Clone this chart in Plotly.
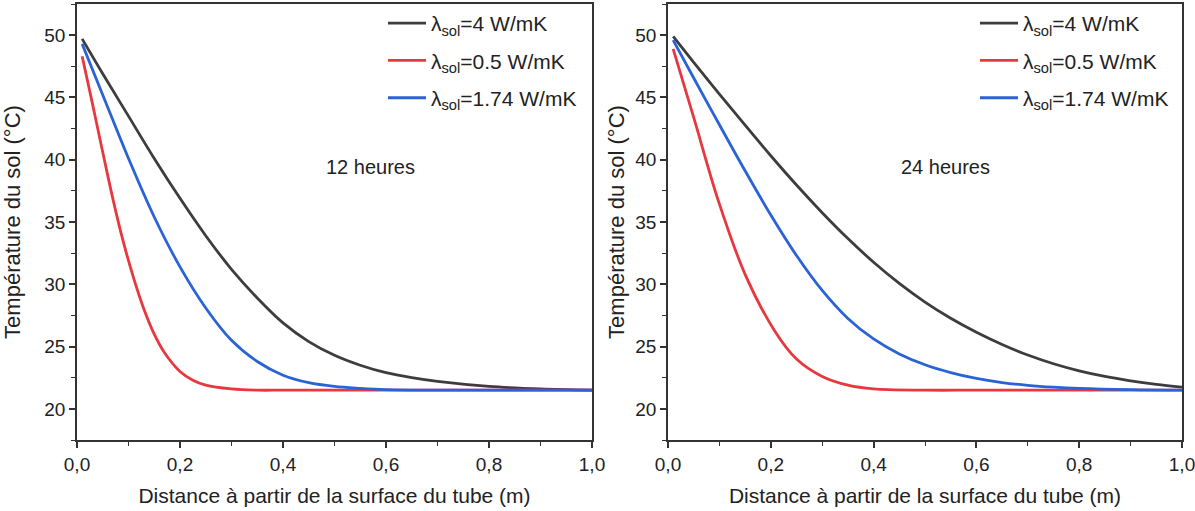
import plotly.graph_objects as go

W, H = 1195, 511

# ---- data ----
x12_black = [0.01, 0.05, 0.1, 0.15, 0.2, 0.25, 0.3, 0.35, 0.4, 0.45, 0.5, 0.55, 0.6, 0.65, 0.7, 0.8, 0.9, 1.0]
t12_black = [49.7, 46.9, 43.5, 40.1, 36.9, 33.9, 31.2, 28.9, 26.9, 25.4, 24.3, 23.5, 22.9, 22.5, 22.2, 21.8, 21.6, 21.5]

x12_red = [0.01, 0.03, 0.05, 0.07, 0.09, 0.11, 0.13, 0.15, 0.17, 0.2, 0.225, 0.25, 0.3, 0.35, 0.4, 0.6, 0.8, 1.0]
t12_red = [48.3, 44.5, 40.6, 36.8, 33.4, 30.5, 28.0, 26.0, 24.5, 23.0, 22.3, 21.9, 21.6, 21.5, 21.5, 21.5, 21.5, 21.5]

x12_blue = [0.01, 0.05, 0.1, 0.15, 0.2, 0.25, 0.3, 0.35, 0.4, 0.45, 0.5, 0.55, 0.6, 0.7, 0.8, 1.0]
t12_blue = [49.3, 45.2, 40.1, 35.4, 31.4, 28.1, 25.5, 23.8, 22.7, 22.1, 21.8, 21.65, 21.55, 21.5, 21.5, 21.5]

x24_black = [0.01, 0.05, 0.1, 0.15, 0.2, 0.25, 0.3, 0.35, 0.4, 0.45, 0.5, 0.55, 0.6, 0.65, 0.7, 0.75, 0.8, 0.85, 0.9, 0.95, 1.0]
t24_black = [49.9, 47.82, 45.27, 42.77, 40.32, 37.97, 35.75, 33.67, 31.77, 30.07, 28.57, 27.27, 26.15, 25.17, 24.32, 23.62, 23.05, 22.6, 22.25, 21.97, 21.75]

x24_red = [0.01, 0.05, 0.098, 0.15, 0.207, 0.25, 0.3, 0.35, 0.4, 0.5, 0.6, 0.8, 1.0]
t24_red = [48.9, 43.4, 36.7, 30.8, 26.3, 24.0, 22.6, 21.9, 21.6, 21.5, 21.5, 21.5, 21.5]

x24_blue = [0.01, 0.05, 0.1, 0.15, 0.2, 0.25, 0.3, 0.35, 0.4, 0.45, 0.5, 0.55, 0.6, 0.65, 0.7, 0.75, 0.8, 0.9, 1.0]
t24_blue = [49.6, 46.56, 42.81, 39.11, 35.56, 32.31, 29.51, 27.26, 25.61, 24.41, 23.54, 22.91, 22.44, 22.11, 21.89, 21.74, 21.64, 21.54, 21.5]

labels = ["λ<sub>sol</sub>=4 W/mK", "λ<sub>sol</sub>=0.5 W/mK", "λ<sub>sol</sub>=1.74 W/mK"]
panel_notes = ["12 heures", "24 heures"]
x_title = "Distance à partir de la surface du tube (m)"
y_title = "Température du sol (°C)"

colors = ["#3d3d3d", "#e8383f", "#2a63d6"]
FONT = "Liberation Sans, Arial, sans-serif"

fig = go.Figure()

panels = [
    [(x12_black, t12_black), (x12_red, t12_red), (x12_blue, t12_blue)],
    [(x24_black, t24_black), (x24_red, t24_red), (x24_blue, t24_blue)],
]
for p, series in enumerate(panels):
    for i, (xs, ys) in enumerate(series):
        fig.add_trace(go.Scatter(
            x=xs, y=ys, mode="lines", name=labels[i],
            line=dict(color=colors[i], width=2.8, shape="spline", smoothing=1.0),
            xaxis="x" if p == 0 else "x2", yaxis="y" if p == 0 else "y2",
            legend="legend" if p == 0 else "legend2",
            legendgroup=f"p{p}g{i}",
        ))

ydom = [(H - 440) / H, (H - 4) / H]
axis_common = dict(
    automargin=False,
    showline=True, linecolor="#333333", linewidth=1.6, mirror=True,
    ticks="outside", ticklen=6, tickwidth=1.5, tickcolor="#333333",
    showgrid=False, zeroline=False,
    tickfont=dict(family=FONT, size=19, color="#222222"),
)
xaxis_extra = dict(range=[0, 1], dtick=0.2, tickformat=".1f", ticklabeloverflow="allow",
                   minor=dict(ticks="outside", ticklen=4, tickwidth=1.3, tickcolor="#333333", dtick=0.1),
                   title=dict(text=x_title, standoff=15, font=dict(family=FONT, size=21, color="#222222")))
yaxis_minor = dict(ticks="outside", ticklen=4, tickwidth=1.3, tickcolor="#333333", dtick=2.5)

fig.update_layout(
    template="none",
    width=W, height=H,
    margin=dict(l=0, r=0, t=0, b=0, autoexpand=False),
    paper_bgcolor="white", plot_bgcolor="white",
    separators=", ",
    font=dict(family=FONT, size=18, color="#222222"),
    xaxis=dict(domain=[77 / W, 592 / W], anchor="y", **axis_common, **xaxis_extra),
    yaxis=dict(domain=ydom, anchor="x", range=[17.5, 52.5], dtick=5, tick0=20, minor=yaxis_minor,
               title=dict(text=y_title, standoff=19, font=dict(family=FONT, size=22, color="#222222")),
               **axis_common),
    xaxis2=dict(domain=[668 / W, 1182 / W], anchor="y2", **axis_common, **xaxis_extra),
    yaxis2=dict(domain=ydom, anchor="x2", range=[17.5, 52.5], dtick=5, tick0=20, minor=yaxis_minor,
                title=dict(text=y_title, standoff=5, font=dict(family=FONT, size=22, color="#222222")),
                **axis_common),
    legend=dict(x=383 / W, y=(H - 3) / H, xanchor="left", yanchor="top", itemwidth=38,
                bgcolor="rgba(0,0,0,0)", font=dict(family=FONT, size=21, color="#222222"),
                tracegroupgap=7),
    legend2=dict(x=975 / W, y=(H - 3) / H, xanchor="left", yanchor="top", itemwidth=38,
                 bgcolor="rgba(0,0,0,0)", font=dict(family=FONT, size=21, color="#222222"),
                 tracegroupgap=7),
    showlegend=True,
    annotations=[
        dict(text=panel_notes[0], x=0.569, y=39.4, xref="x", yref="y", showarrow=False,
             font=dict(family=FONT, size=20, color="#222222")),
        dict(text=panel_notes[1], x=0.54, y=39.4, xref="x2", yref="y2", showarrow=False,
             font=dict(family=FONT, size=20, color="#222222")),
    ],
)

fig.write_html("out.html", config={"displayModeBar": False},
               post_script="document.body.style.margin='0px';")
